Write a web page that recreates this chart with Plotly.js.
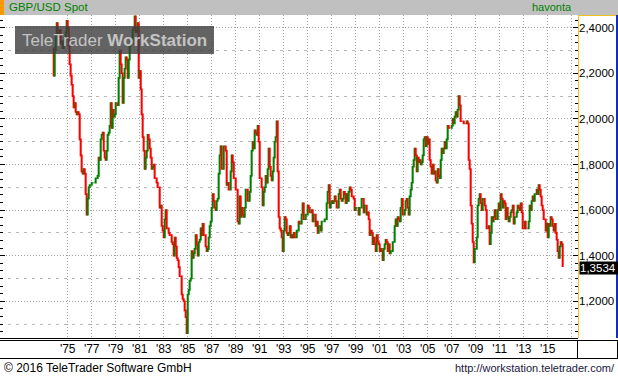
<!DOCTYPE html>
<html><head><meta charset="utf-8">
<script src="https://cdn.plot.ly/plotly-3.0.1.min.js"></script>
<style>html,body{margin:0;padding:0;background:#fff;overflow:hidden}#chart{width:618px;height:376px}</style>
</head><body><div id="chart"></div>
<script>
// Monthly closes of GBP/USD (candles drawn from previous close to close)
const close1970s = [
 2.19,2.30,2.37,2.42,2.38,2.36,2.39,2.33,2.34,2.31,2.34,2.35,
 2.38,2.43,2.40,2.32,2.24,2.19,2.15,2.10,2.05,2.07,2.03,2.02,
 2.03,2.02,1.91,1.84,1.77,1.76,1.78,1.76,1.67,1.58,1.65,1.70,
 1.71,1.71,1.72,1.72,1.72,1.72,1.74,1.74,1.75,1.83,1.82,1.91,
 1.93,1.94,1.86,1.83,1.82,1.86,1.93,1.94,1.97,2.07,1.96,2.04,
 2.01,2.02,2.07,2.07,2.06,2.18,2.30,2.24,2.20,2.07,2.18,2.22];
const close1980s = [
 2.27,2.26,2.18,2.26,2.32,2.35,2.33,2.39,2.40,2.45,2.38,2.39,
 2.42,2.18,2.21,2.13,2.02,1.92,1.86,1.78,1.83,1.86,1.93,1.91,
 1.87,1.83,1.78,1.79,1.80,1.74,1.74,1.72,1.70,1.70,1.61,1.62,
 1.53,1.51,1.48,1.56,1.60,1.52,1.52,1.50,1.49,1.49,1.46,1.45,
 1.40,1.48,1.44,1.39,1.38,1.35,1.31,1.31,1.23,1.21,1.20,1.16,
 1.13,1.06,1.23,1.25,1.29,1.30,1.42,1.39,1.41,1.43,1.49,1.45,
 1.40,1.46,1.47,1.52,1.49,1.54,1.49,1.49,1.44,1.42,1.43,1.48,
 1.53,1.55,1.61,1.67,1.64,1.61,1.60,1.64,1.65,1.76,1.84,1.88,
 1.78,1.78,1.88,1.88,1.86,1.71,1.72,1.69,1.69,1.77,1.84,1.81,
 1.74,1.74,1.69,1.69,1.55,1.54,1.66,1.57,1.61,1.58,1.57,1.61];
const close1990s = [
 1.69,1.69,1.64,1.64,1.68,1.75,1.86,1.90,1.87,1.95,1.94,1.93,
 1.97,1.90,1.74,1.74,1.70,1.62,1.68,1.70,1.75,1.72,1.78,1.87,
 1.79,1.75,1.73,1.77,1.83,1.90,1.92,1.99,1.77,1.57,1.52,1.51,
 1.48,1.42,1.51,1.57,1.56,1.50,1.49,1.50,1.53,1.48,1.49,1.48,
 1.50,1.48,1.48,1.51,1.51,1.55,1.54,1.54,1.58,1.63,1.56,1.56,
 1.58,1.58,1.62,1.61,1.59,1.59,1.60,1.55,1.58,1.58,1.53,1.55,
 1.50,1.53,1.53,1.51,1.55,1.55,1.55,1.56,1.56,1.63,1.68,1.71,
 1.61,1.63,1.64,1.63,1.64,1.66,1.64,1.61,1.61,1.67,1.69,1.65,
 1.64,1.65,1.68,1.67,1.63,1.67,1.64,1.68,1.70,1.69,1.66,1.66,
 1.65,1.60,1.61,1.61,1.61,1.58,1.61,1.61,1.65,1.65,1.59,1.62];
const close2000s = [
 1.62,1.58,1.59,1.56,1.49,1.51,1.50,1.45,1.48,1.45,1.42,1.49,
 1.46,1.45,1.42,1.43,1.42,1.38,1.43,1.45,1.47,1.46,1.42,1.45,
 1.41,1.42,1.42,1.46,1.46,1.53,1.56,1.53,1.57,1.56,1.55,1.61,
 1.65,1.58,1.58,1.60,1.64,1.65,1.61,1.58,1.66,1.69,1.72,1.79,
 1.82,1.87,1.84,1.77,1.83,1.81,1.82,1.80,1.81,1.84,1.91,1.92,
 1.88,1.92,1.89,1.91,1.82,1.79,1.76,1.80,1.76,1.77,1.73,1.72,
 1.78,1.75,1.74,1.82,1.87,1.85,1.87,1.90,1.87,1.91,1.97,1.96,
 1.96,1.96,1.97,2.00,1.98,2.01,2.03,2.01,2.04,2.10,2.06,1.99,
 1.99,1.99,1.98,1.98,1.98,1.99,1.98,1.82,1.78,1.62,1.54,1.46,
 1.37,1.43,1.43,1.48,1.62,1.65,1.67,1.63,1.60,1.65,1.65,1.62];
const close2010s = [
 1.60,1.52,1.52,1.53,1.45,1.50,1.57,1.55,1.57,1.60,1.56,1.56,
 1.60,1.63,1.60,1.67,1.65,1.61,1.64,1.63,1.56,1.61,1.57,1.55,
 1.57,1.59,1.60,1.62,1.54,1.57,1.57,1.59,1.62,1.61,1.60,1.63,
 1.59,1.52,1.52,1.55,1.52,1.52,1.52,1.55,1.62,1.60,1.64,1.66,
 1.64,1.67,1.67,1.69,1.67,1.71,1.69,1.66,1.62,1.60,1.56,1.56,
 1.51,1.54,1.48,1.54,1.53,1.57,1.56,1.53,1.51,1.54,1.50,1.47,
 1.42,1.39,1.44,1.46,1.45,1.3534];
const firstOpen = 2.31;
const firstMonth = [1973, 11];          // position of first candle on the chart's time axis
const tickYears = [1975,1977,1979,1981,1983,1985,1987,1989,1991,1993,1995,1997,1999,2001,2003,2005,2007,2009,2011,2013,2015,2017];
const tickLabels = ["'75","'77","'79","'81","'83","'85","'87","'89","'91","'93","'95","'97","'99","'01","'03","'05","'07","'09","'11","'13","'15",""];
const instrument = 'GBP/USD Spot';
const periodText = 'havonta';
const footerLeft = '\u00A9 2016 TeleTrader Software GmbH';
const footerRight = 'http://workstation.teletrader.com/';

const closes = [].concat(close1970s, close1980s, close1990s, close2000s, close2010s);
const dates = [], opens = [], highs = [], lows = [];
let yy = firstMonth[0], mm = firstMonth[1];
for (let i = 0; i < closes.length; i++) {
  dates.push(yy + '-' + String(mm).padStart(2, '0') + '-01');
  const o = i === 0 ? firstOpen : closes[i - 1];
  opens.push(o); highs.push(Math.max(o, closes[i])); lows.push(Math.min(o, closes[i]));
  mm++; if (mm > 12) { mm = 1; yy++; }
}
const lastClose = closes[closes.length - 1];

// layout geometry
const W = 618, H = 376, ML = 0, MR = 40, MT = 15, MB = 38;
const PW = W - ML - MR, PH = H - MT - MB;
const px = v => (v - ML) / PW;
const py = v => (H - MB - v) / PH;
const msPerPx = 365.25 * 86400000 / 12;
const jan75 = Date.UTC(1975, 0, 1);
const xr0 = jan75 - 67.7 * msPerPx, xr1 = xr0 + PW * msPerPx;
const iso = t => new Date(t).toISOString().slice(0, 19).replace('T', ' ');
const yRange = [1.0390, 2.4557];
const FONT = 'Liberation Sans, Arial, sans-serif';

const traces = [
  {type: 'candlestick', x: dates, open: opens, high: highs, low: lows, close: closes,
   increasing: {line: {color: '#008000', width: 1.6}, fillcolor: '#008000'},
   decreasing: {line: {color: '#ff0000', width: 1.6}, fillcolor: '#ff0000'},
   whiskerwidth: 0, hoverinfo: 'skip', showlegend: false},
  {type: 'scatter', x: [], y: [], yaxis: 'y2', showlegend: false, hoverinfo: 'skip'}
];

const line = (x0, y0, x1, y1, color, w) => ({type: 'line', xref: 'paper', yref: 'paper',
  x0: px(x0), y0: py(y0), x1: px(x1), y1: py(y1), line: {color: color, width: w}, layer: 'above'});

const layout = {
  width: W, height: H, margin: {l: ML, r: MR, t: MT, b: MB, pad: 0},
  paper_bgcolor: '#ffffff', plot_bgcolor: '#ffffff',
  separators: ',.',
  showlegend: false,
  font: {family: FONT, size: 12, color: '#000'},
  xaxis: {type: 'date', range: [iso(xr0), iso(xr1)], rangeslider: {visible: false},
    tickmode: 'array', tickvals: tickYears.map(y => y + '-01-01'), ticktext: tickLabels,
    showgrid: true, gridcolor: '#a0a0a0', griddash: '1px,2px', gridwidth: 1,
    ticks: '', showline: true, linecolor: '#000', linewidth: 1, zeroline: false,
    tickfont: {family: FONT, size: 12, color: '#000'}, fixedrange: true},
  yaxis: {side: 'right', range: yRange, tickmode: 'linear', tick0: 0, dtick: 0.2, tickformat: '.4f',
    ticks: 'inside', ticklen: 5, tickwidth: 1, tickcolor: '#000', mirror: 'ticks',
    minor: {dtick: 0.2 / 6, tick0: 0, ticks: 'inside', ticklen: 3, tickcolor: '#000', showgrid: false},
    showgrid: true, gridcolor: '#a0a0a0', griddash: '1px,2px', gridwidth: 1,
    showline: false, zeroline: false, tickfont: {family: FONT, size: 11.5, color: '#000'}, fixedrange: true},
  yaxis2: {overlaying: 'y', side: 'right', range: yRange, tickmode: 'linear', tick0: 0.1, dtick: 0.2,
    showgrid: true, gridcolor: '#b8b8b8', griddash: '3px,5px', gridwidth: 1,
    showticklabels: false, ticks: '', showline: false, zeroline: false, fixedrange: true},
  shapes: [
    {type: 'rect', xref: 'paper', yref: 'paper', x0: px(0), x1: px(W), y0: py(15), y1: py(0),
     fillcolor: '#c0c0c0', line: {width: 0}, layer: 'above'},
    {type: 'rect', xref: 'paper', yref: 'paper', x0: px(0), x1: px(4), y0: py(15), y1: py(0),
     fillcolor: '#ff9900', line: {width: 0}, layer: 'above'},
    {type: 'rect', xref: 'paper', yref: 'paper', x0: px(15), x1: px(214), y0: py(54), y1: py(26),
     fillcolor: 'rgba(60,60,60,0.8)', line: {width: 0}, layer: 'above'},
    line(578.5, 15, 578.5, 338, '#f0c020', 1),
    line(578, 15.5, 616, 15.5, '#f0c020', 1),
    line(617, 15, 617, 338, '#1030b0', 2),
    line(0, 340.5, W, 340.5, '#000', 1),
    line(0, 358.5, W, 358.5, '#000', 1),
    line(577.5, 340, 577.5, 359, '#000', 1),
    line(617.5, 340, 617.5, 359, '#000', 1)
  ],
  annotations: [
    {xref: 'paper', yref: 'paper', x: px(7), y: py(7.5), xanchor: 'left', yanchor: 'middle', showarrow: false,
     text: instrument, font: {family: FONT, size: 11.5, color: '#008000'}},
    {xref: 'paper', yref: 'paper', x: px(574), y: py(7.5), xanchor: 'right', yanchor: 'middle', showarrow: false,
     text: periodText, font: {family: FONT, size: 11, color: '#008000'}},
    {xref: 'paper', yref: 'paper', x: px(114.5), y: py(40), xanchor: 'center', yanchor: 'middle', showarrow: false,
     text: 'TeleTrader <b>WorkStation</b>', font: {family: FONT, size: 17, color: '#c4c4c4'}},
    {xref: 'paper', yref: 'paper', x: px(2), y: py(367.5), xanchor: 'left', yanchor: 'middle', showarrow: false,
     text: footerLeft, font: {family: FONT, size: 12, color: '#000'}},
    {xref: 'paper', yref: 'paper', x: px(617), y: py(367.5), xanchor: 'right', yanchor: 'middle', showarrow: false,
     text: footerRight, font: {family: FONT, size: 11, color: '#202040'}},
    {xref: 'paper', yref: 'y', x: 1, y: lastClose, xanchor: 'left', yanchor: 'middle', xshift: 1, yshift: -2, showarrow: false,
     text: lastClose.toFixed(4).replace('.', ','), bgcolor: '#000', borderpad: 0, width: 38, height: 12, align: 'left',
     font: {family: FONT, size: 11.5, color: '#fff'}}
  ]
};

Plotly.newPlot('chart', traces, layout, {staticPlot: true, displayModeBar: false});
</script></body></html>
